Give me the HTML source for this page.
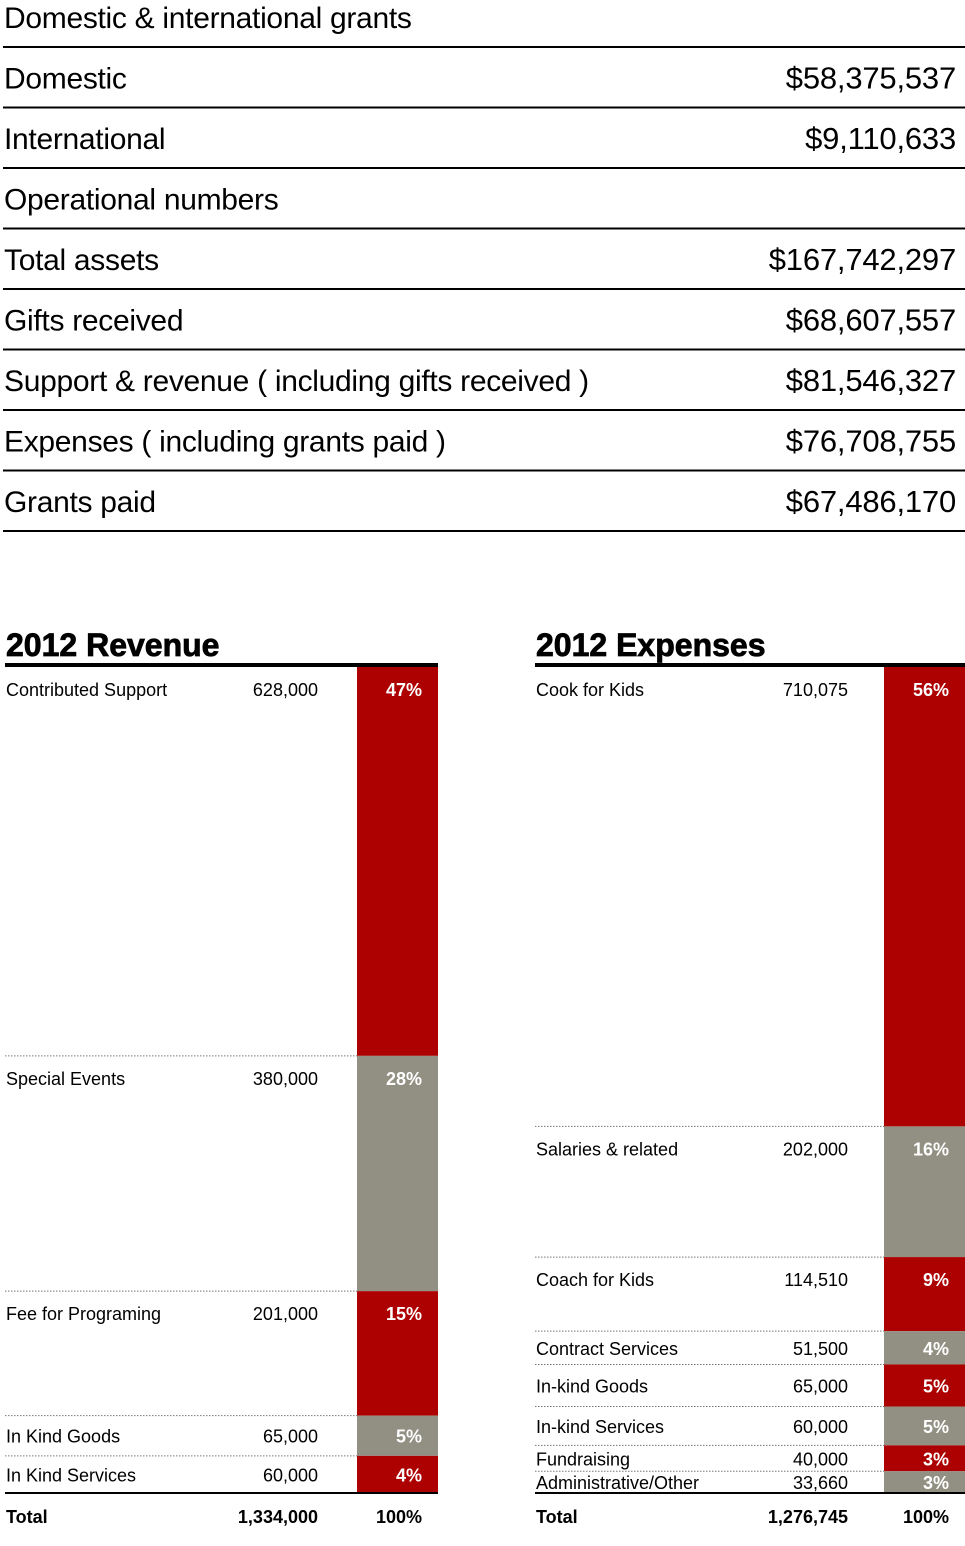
<!DOCTYPE html>
<html><head><meta charset="utf-8"><style>
body{margin:0;background:#fff;width:965px;height:1546px;overflow:hidden;font-family:"Liberation Sans",sans-serif}
svg{position:absolute;left:0;top:0}
</style></head><body>
<svg id="s" width="965" height="1546">
<g id="topg"></g>
<g id="rev"></g>
<g id="exp"></g>
</svg>
<script>
const summaryLabels=["Domestic & international grants","Domestic","International","Operational numbers","Total assets","Gifts received","Support & revenue ( including gifts received )","Expenses ( including grants paid )","Grants paid"];
const summaryValues=["","$58,375,537","$9,110,633","","$167,742,297","$68,607,557","$81,546,327","$76,708,755","$67,486,170"];
const revCategories=["Contributed Support","Special Events","Fee for Programing","In Kind Goods","In Kind Services"];
const revValues=[628000,380000,201000,65000,60000];
const revPct=["47%","28%","15%","5%","4%"];
const revTotal=["1,334,000","100%"];
const expCategories=["Cook for Kids","Salaries & related","Coach for Kids","Contract Services","In-kind Goods","In-kind Services","Fundraising","Administrative/Other"];
const expValues=[710075,202000,114510,51500,65000,60000,40000,33660];
const expPct=["56%","16%","9%","4%","5%","5%","3%","3%"];
const expTotal=["1,276,745","100%"];

const NS="http://www.w3.org/2000/svg";
function mk(p,tag,at,txt){const e=document.createElementNS(NS,tag);for(const k in at)e.setAttribute(k,at[k]);if(txt!==undefined)e.textContent=txt;p.appendChild(e);return e;}
const topG=document.getElementById('topg');
summaryLabels.forEach((l,i)=>{
  const y=i*60.5;
  const t=mk(topG,'text',{x:4,y:y+28,'font-size':30,fill:'#000','letter-spacing':-0.3},l);
  
  
  if(summaryValues[i]){const v=mk(topG,'text',{x:956,y:y+28,'text-anchor':'end','font-size':31,fill:'#000','letter-spacing':-0.2},summaryValues[i]);
  
  }
  const ln=mk(topG,'rect',{x:3,y:y+46,width:962,height:2,fill:'#000'});
  
  
});
function fmt(n){return n.toLocaleString('en-US');}
function chart(g,x0,barX,valGap,title,cats,vals,pct,tot){
  const y0=667,y1=1493,barW=81,right=barX+barW;
  const sum=vals.reduce((a,b)=>a+b,0);
  const sy=v=>v/sum*(y1-y0);
  const tt=mk(g,'text',{x:x0+1,y:656,'font-size':32,'font-weight':'900',fill:'#000',stroke:'#000','stroke-width':0.8},title);
  
  
  const hr=mk(g,'rect',{x:x0,y:663,width:right-x0,height:4,fill:'#000'});
  
  
  let y=y0;
  cats.forEach((c,i)=>{
    const h=sy(vals[i]);
    const b=mk(g,'rect',{x:barX,y:y,width:barW,height:h,fill:i%2?'#919083':'#ad0000'});
    
    
    const cy=y+Math.min(22,h*0.5)+7;
    const l=mk(g,'text',{x:x0+1,y:cy,'font-size':18,fill:'#000'},c);
    
    
    const v=mk(g,'text',{x:barX-valGap,y:cy,'font-size':18,'text-anchor':'end',fill:'#000'},fmt(vals[i]));
    
    
    const p=mk(g,'text',{x:right-16,y:cy,'font-size':18,'font-weight':'bold','text-anchor':'end',fill:'#fff'},pct[i]);
    
    
    if(i>0){const d=mk(g,'line',{x1:x0,x2:barX,y1:y,y2:y,stroke:'#777','stroke-width':1,'stroke-dasharray':'1.5,1.5'});
    
    }
    y+=h;
  });
  const br=mk(g,'rect',{x:x0,y:y1-1,width:right-x0,height:2,fill:'#000'});
  
  
  const a=mk(g,'text',{x:x0+1,y:1523,'font-size':18,'font-weight':'bold',fill:'#000'},'Total');
  
  
  const b2=mk(g,'text',{x:barX-valGap,y:1523,'font-size':18,'font-weight':'bold','text-anchor':'end',fill:'#000'},tot[0]);
  
  
  const c2=mk(g,'text',{x:right-16,y:1523,'font-size':18,'font-weight':'bold','text-anchor':'end',fill:'#000'},tot[1]);
  
  
}
chart(document.getElementById('rev'),5,357,39,'2012 Revenue',revCategories,revValues,revPct,revTotal);
chart(document.getElementById('exp'),535,884,36,'2012 Expenses',expCategories,expValues,expPct,expTotal);
</script>
</body></html>
